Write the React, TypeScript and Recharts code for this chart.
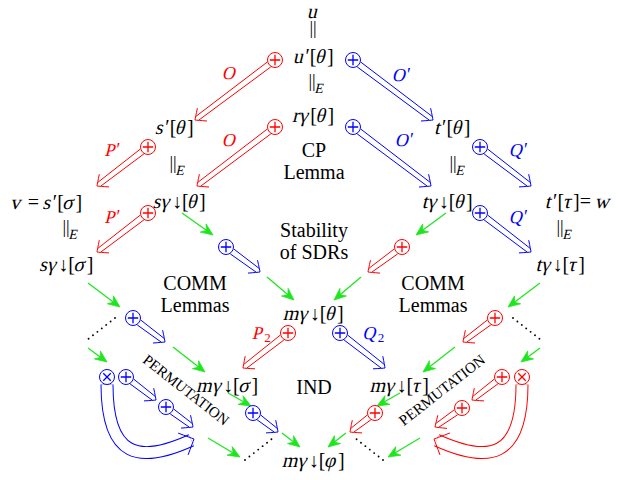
// Commutation diagram — terms, lemma arrows and reduction steps drawn on a ScatterChart
import React from 'react';
import { ScatterChart, Scatter, XAxis, YAxis, ReferenceLine } from 'recharts';

const SERIF = '"Liberation Serif", "Times New Roman", serif';
const RED = '#ff0000';
const BLUE = '#0000ff';
const GREEN = '#1ee61e';

// terms of the diagram (math)
const terms = [
  { x: 314, y: 11, label: 'u' },
  { x: 314, y: 56, label: 'u′[θ]' },
  { x: 314, y: 115, label: 'rγ[θ]' },
  { x: 175, y: 127, label: 's′[θ]' },
  { x: 453, y: 127, label: 't′[θ]' },
  { x: 47, y: 202, label: 'v = s′[σ]' },
  { x: 180, y: 201, label: 'sγ↓[θ]' },
  { x: 448, y: 201, label: 'tγ↓[θ]' },
  { x: 579, y: 201, label: 't′[τ]= w' },
  { x: 67, y: 264, label: 'sγ↓[σ]' },
  { x: 561, y: 264, label: 'tγ↓[τ]' },
  { x: 314, y: 313, label: 'mγ↓[θ]' },
  { x: 228, y: 385, label: 'mγ↓[σ]' },
  { x: 400, y: 385, label: 'mγ↓[τ]' },
  { x: 314, y: 460, label: 'mγ↓[φ]' },
];

// equalities (|| with optional subscript)
const equalities = [
  { x: 313, y: 28, sub: '' },
  { x: 312, y: 81, sub: 'E' },
  { x: 173, y: 163, sub: 'E' },
  { x: 453, y: 163, sub: 'E' },
  { x: 66, y: 227, sub: 'E' },
  { x: 560, y: 227, sub: 'E' },
];

// plain words
const words = [
  { x: 314, y: 150, label: 'CP' },
  { x: 314, y: 172, label: 'Lemma' },
  { x: 314, y: 230, label: 'Stability' },
  { x: 314, y: 252, label: 'of SDRs' },
  { x: 195, y: 283, label: 'COMM' },
  { x: 195, y: 305, label: 'Lemmas' },
  { x: 433, y: 283, label: 'COMM' },
  { x: 433, y: 305, label: 'Lemmas' },
  { x: 314, y: 387, label: 'IND' },
];

const tilted = [
  { x: 186, y: 390, label: 'PERMUTATION', angle: 38 },
  { x: 442, y: 390, label: 'PERMUTATION', angle: -38 },
];

// arrow names
const redNames = [
  { x: 230, y: 73, label: 'O', sub: '' },
  { x: 230, y: 140, label: 'O', sub: '' },
  { x: 113, y: 150, label: 'P′', sub: '' },
  { x: 113, y: 217, label: 'P′', sub: '' },
  { x: 262, y: 333, label: 'P', sub: '2' },
];
const blueNames = [
  { x: 402, y: 75, label: 'O′', sub: '' },
  { x: 405, y: 140, label: 'O′', sub: '' },
  { x: 519, y: 150, label: 'Q′', sub: '' },
  { x: 519, y: 217, label: 'Q′', sub: '' },
  { x: 374, y: 333, label: 'Q', sub: '2' },
];

// ⊕ markers
const redPlus = [
  { x: 275, y: 60 }, { x: 275, y: 127 }, { x: 148, y: 147 }, { x: 148, y: 213 },
  { x: 402, y: 247 }, { x: 288, y: 333 }, { x: 495, y: 318 }, { x: 502, y: 377 },
  { x: 462, y: 408 }, { x: 375, y: 413 },
];
const bluePlus = [
  { x: 353, y: 60 }, { x: 353, y: 127 }, { x: 480, y: 147 }, { x: 480, y: 213 },
  { x: 226, y: 247 }, { x: 340, y: 333 }, { x: 133, y: 318 }, { x: 126, y: 377 },
  { x: 166, y: 407 }, { x: 253, y: 413 },
];
const redTimes = [{ x: 522, y: 377 }];
const blueTimes = [{ x: 107, y: 377 }];

// double arrows: [from, to]
const redArrows = [
  [275, 60, 195, 120], [275, 127, 197, 186], [148, 147, 97, 186], [148, 213, 97, 252],
  [402, 247, 368, 272], [288, 333, 243, 368], [495, 318, 463, 342], [502, 377, 472, 400],
  [462, 408, 435, 427], [375, 413, 350, 432],
];
const blueArrows = [
  [353, 60, 433, 120], [353, 127, 431, 186], [480, 147, 531, 186], [480, 213, 531, 252],
  [226, 247, 260, 272], [340, 333, 385, 368], [133, 318, 165, 342], [126, 377, 156, 400],
  [166, 407, 193, 427], [253, 413, 278, 432],
];
const redCurves = [[522, 377, 434, 439]];
const blueCurves = [[107, 377, 194, 439]];

// reduction steps
const greenArrows = [
  [182, 213, 213, 235], [446, 213, 416, 235],
  [267, 277, 294, 300], [361, 277, 334, 300],
  [88, 283, 120, 307], [540, 283, 508, 307],
  [88, 348, 107, 362], [540, 348, 521, 362],
  [173, 347, 205, 372], [455, 347, 423, 372],
  [228, 393, 251, 406], [400, 393, 377, 406],
  [282, 433, 300, 447], [346, 433, 328, 447],
  [208, 438, 240, 457], [420, 438, 388, 457],
];
const dotted = [
  [115, 318, 87, 340], [513, 318, 541, 340],
  [245, 460, 273, 438], [383, 460, 355, 438],
];

const LETTER = /[A-Za-zα-ωϕ]/;

// italic is faked with a skew on the upright serif so it never falls back to a sans face
let measureCtx: CanvasRenderingContext2D | null = null;
function textWidth(s: string, size: number) {
  if (!measureCtx) measureCtx = document.createElement('canvas').getContext('2d');
  if (!measureCtx) return s.length * size * 0.5;
  measureCtx.font = `${size}px "Liberation Serif"`;
  return measureCtx.measureText(s).width;
}

type Run = { s: string; it?: boolean; size: number; dy?: number };

function Runs({ x, y, runs, color = '#000', anchorFirst = false }: { x: number; y: number; runs: Run[]; color?: string; anchorFirst?: boolean }) {
  const widths = runs.map((r) => textWidth(r.s.replace(/ /g, '\u00a0'), r.size) + (r.it ? r.size * 0.05 : 0));
  const total = widths.reduce((a, b) => a + b, 0);
  let cur = anchorFirst ? x - widths[0] / 2 : x - total / 2;
  return (
    <g opacity={0.995}>
      {runs.map((r, i) => {
        const x0 = cur;
        cur += widths[i];
        const y0 = y + (r.dy || 0);
        return (
          <text
            key={i}
            transform={`translate(${x0.toFixed(1)},${y0}) ${r.it ? 'skewX(-14)' : 'skewX(-0.01)'}`}
            dominantBaseline="central"
            fontFamily={SERIF}
            fontSize={r.size}
            fill={color}
          >
            {r.s.replace(/ /g, '\u00a0')}
          </text>
        );
      })}
    </g>
  );
}

function mathRuns(text: string, size: number): Run[] {
  const parts: string[] = text.match(/[A-Za-zα-ωϕ]+|[^A-Za-zα-ωϕ]+/g) || [];
  return parts.map((p) => ({ s: p, it: LETTER.test(p), size }));
}

function Marker({ cx, cy, color, times }: any) {
  const r = 7.5;
  const a = 5.2;
  const d = times
    ? `M${cx - a * 0.72},${cy - a * 0.72}L${cx + a * 0.72},${cy + a * 0.72}M${cx - a * 0.72},${cy + a * 0.72}L${cx + a * 0.72},${cy - a * 0.72}`
    : `M${cx - a},${cy}H${cx + a}M${cx},${cy - a}V${cy + a}`;
  return (
    <g>
      <circle cx={cx} cy={cy} r={r} fill="#fff" stroke={color} strokeWidth={1} />
      <path d={d} stroke={color} strokeWidth={1.3} fill="none" />
    </g>
  );
}

function unit(x1: number, y1: number, x2: number, y2: number) {
  const len = Math.hypot(x2 - x1, y2 - y1) || 1;
  const ux = (x2 - x1) / len;
  const uy = (y2 - y1) / len;
  return { ux, uy, nx: -uy, ny: ux };
}

function doubleArrow(color: string) {
  return (p: any) => {
    const { x1, y1, x2, y2 } = p;
    const { ux, uy, nx, ny } = unit(x1, y1, x2, y2);
    const at = (bx: number, by: number, a: number, b: number) =>
      `${(bx + ux * a + nx * b).toFixed(1)},${(by + uy * a + ny * b).toFixed(1)}`;
    const w = 3;
    const d =
      `M${at(x1, y1, 7.5, w)}L${at(x2, y2, -3, w * 0.8)}` +
      `M${at(x1, y1, 7.5, -w)}L${at(x2, y2, -3, -w * 0.8)}` +
      `M${at(x2, y2, -9, 8)}Q${at(x2, y2, -2, 2)} ${at(x2, y2, 0, 0)}` +
      `Q${at(x2, y2, -2, -2)} ${at(x2, y2, -9, -8)}`;
    return <path d={d} stroke={color} strokeWidth={1} fill="none" />;
  };
}

function curvedArrow(color: string) {
  return (p: any) => {
    const { x1, y1, x2, y2 } = p;
    const sy = y1 + 7.5;
    const c1x = x1;
    const c1y = y2 + 19;
    const c2x = x1 + 0.37 * (x2 - x1);
    const c2y = y2 + 25;
    const { ux, uy, nx, ny } = unit(c2x, c2y, x2, y2);
    const ex = x2 - ux * 3;
    const ey = y2 - uy * 3;
    const body = `M${x1},${sy}C${c1x},${c1y} ${c2x},${c2y} ${ex},${ey}`;
    const at = (a: number, b: number) => `${(x2 + ux * a + nx * b).toFixed(1)},${(y2 + uy * a + ny * b).toFixed(1)}`;
    const head = `M${at(-12, 12)}Q${at(-3, 3)} ${at(0, 0)}Q${at(-3, -3)} ${at(-12, -12)}`;
    return (
      <g>
        <path d={body} stroke={color} strokeWidth={13} fill="none" />
        <path d={body} stroke="#fff" strokeWidth={11} fill="none" />
        <path d={head} stroke={color} strokeWidth={1} fill="none" />
      </g>
    );
  };
}

function greenArrow(p: any) {
  const { x1, y1, x2, y2 } = p;
  const { ux, uy, nx, ny } = unit(x1, y1, x2, y2);
  const at = (a: number, b: number) => `${(x2 + ux * a + nx * b).toFixed(1)},${(y2 + uy * a + ny * b).toFixed(1)}`;
  return (
    <g>
      <line x1={x1} y1={y1} x2={x2 - ux * 6} y2={y2 - uy * 6} stroke={GREEN} strokeWidth={1.3} />
      <path d={`M${at(0, 0)}L${at(-12, 5)}L${at(-8, 0)}L${at(-12, -5)}Z`} fill={GREEN} stroke={GREEN} strokeWidth={0.8} />
    </g>
  );
}

function dottedLine(p: any) {
  const { x1, y1, x2, y2 } = p;
  return <line x1={x1} y1={y1} x2={x2} y2={y2} stroke="#000" strokeWidth={1.9} strokeDasharray="0 5.6" strokeLinecap="round" />;
}

const seg = (s: number[]) => [{ x: s[0], y: s[1] }, { x: s[2], y: s[3] }];

function nameRuns(label: string, sub: string): Run[] {
  const runs: Run[] = [{ s: label.replace('′', ''), it: true, size: 18 }];
  if (label.includes('′')) runs.push({ s: '′', size: 18 });
  if (sub) runs.push({ s: sub, size: 13, dy: 4 });
  return runs;
}

export default function App() {
  return (
    <div style={{ position: 'absolute', left: 0, top: 0, width: 619, height: 480, background: '#fff' }}>
      <ScatterChart width={619} height={480} margin={{ top: 0, right: 0, bottom: 0, left: 0 }}>
        <XAxis type="number" dataKey="x" domain={[0, 619]} allowDataOverflow hide />
        <YAxis type="number" dataKey="y" domain={[0, 480]} allowDataOverflow reversed hide />

        {blueCurves.map((s, i) => (
          <ReferenceLine key={'bc' + i} segment={seg(s)} shape={curvedArrow(BLUE)} />
        ))}
        {redCurves.map((s, i) => (
          <ReferenceLine key={'rc' + i} segment={seg(s)} shape={curvedArrow(RED)} />
        ))}
        {redArrows.map((s, i) => (
          <ReferenceLine key={'ra' + i} segment={seg(s)} shape={doubleArrow(RED)} />
        ))}
        {blueArrows.map((s, i) => (
          <ReferenceLine key={'ba' + i} segment={seg(s)} shape={doubleArrow(BLUE)} />
        ))}
        {greenArrows.map((s, i) => (
          <ReferenceLine key={'ga' + i} segment={seg(s)} shape={greenArrow} />
        ))}
        {dotted.map((s, i) => (
          <ReferenceLine key={'dl' + i} segment={seg(s)} shape={dottedLine} />
        ))}

        <Scatter data={redPlus} isAnimationActive={false} shape={(p: any) => <Marker cx={p.cx} cy={p.cy} color={RED} />} />
        <Scatter data={bluePlus} isAnimationActive={false} shape={(p: any) => <Marker cx={p.cx} cy={p.cy} color={BLUE} />} />
        <Scatter data={redTimes} isAnimationActive={false} shape={(p: any) => <Marker cx={p.cx} cy={p.cy} color={RED} times />} />
        <Scatter data={blueTimes} isAnimationActive={false} shape={(p: any) => <Marker cx={p.cx} cy={p.cy} color={BLUE} times />} />

        <Scatter
          data={terms}
          isAnimationActive={false}
          shape={(p: any) => <Runs x={p.cx} y={p.cy} runs={mathRuns(p.payload.label, 20)} />}
        />
        <Scatter
          data={equalities}
          isAnimationActive={false}
          shape={(p: any) => (
            <Runs
              x={p.cx}
              y={p.cy}
              anchorFirst
              runs={p.payload.sub ? [{ s: '||', size: 18 }, { s: p.payload.sub, it: true, size: 14, dy: 7 }] : [{ s: '||', size: 18 }]}
            />
          )}
        />
        <Scatter
          data={words}
          isAnimationActive={false}
          shape={(p: any) => (
            <text x={p.cx} y={p.cy} textAnchor="middle" dominantBaseline="central" fontFamily={SERIF} fontSize={20} fill="#000">
              {p.payload.label}
            </text>
          )}
        />
        <Scatter
          data={tilted}
          isAnimationActive={false}
          shape={(p: any) => (
            <text
              x={p.cx}
              y={p.cy}
              textAnchor="middle"
              dominantBaseline="central"
              fontFamily={SERIF}
              fontSize={15}
              fill="#000"
              transform={`rotate(${p.payload.angle} ${p.cx} ${p.cy})`}
            >
              {p.payload.label}
            </text>
          )}
        />
        <Scatter
          data={redNames}
          isAnimationActive={false}
          shape={(p: any) => <Runs x={p.cx} y={p.cy} runs={nameRuns(p.payload.label, p.payload.sub)} color={RED} />}
        />
        <Scatter
          data={blueNames}
          isAnimationActive={false}
          shape={(p: any) => <Runs x={p.cx} y={p.cy} runs={nameRuns(p.payload.label, p.payload.sub)} color={BLUE} />}
        />
      </ScatterChart>
    </div>
  );
}
